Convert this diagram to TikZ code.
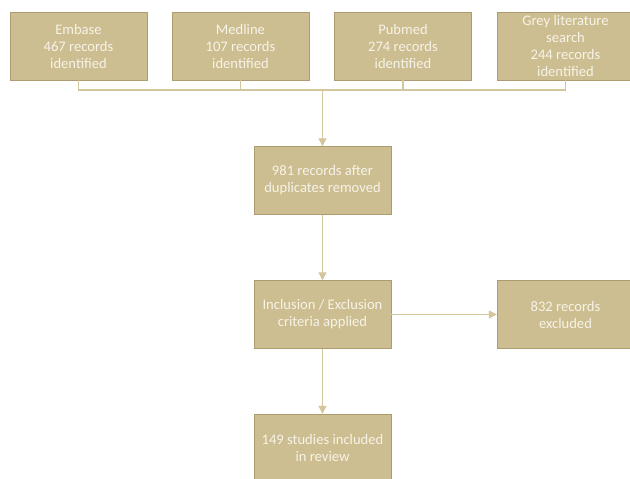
\documentclass[tikz,border=0pt]{standalone}
\usepackage{fontspec}
\setmainfont{Carlito}
\usetikzlibrary{arrows.meta,positioning,calc}
\definecolor{PrsTan}{RGB}{205,190,145}
\definecolor{PrsEdge}{RGB}{172,156,112}
\definecolor{PrsLine}{RGB}{212,198,156}
\definecolor{PrsText}{RGB}{246,243,232}
\tikzset{
  prs/box/.style={
    draw=PrsEdge,
    thin,
    fill=PrsTan,
    align=center,
    text=PrsText,
    minimum width=137pt,
    minimum height=68pt,
    inner sep=2pt,
    font=\fontsize{14.6pt}{17pt}\selectfont
  },
  prs/line/.style={draw=PrsLine, line width=1.3pt},
  prs/arrow/.style={-{Triangle[length=8pt,width=8pt]}, line width=1.3pt, draw=PrsLine}
}
\begin{document}
\begin{tikzpicture}[x=1pt,y=-1pt]
  \useasboundingbox (0,0) rectangle (630,479);
  \clip (0,0) rectangle (630,479);
  % sources
  \node[prs/box] (embase) at (78.5,46) {Embase\\467 records\\identified};
  \node[prs/box] (medline) at (240.5,46) {Medline\\107 records\\identified};
  \node[prs/box] (pubmed) at (403,46) {Pubmed\\274 records\\identified};
  \node[prs/box] (grey) at (565.5,46) {Grey literature\\search\\244 records\\identified};
  % screening
  \node[prs/box] (dedup) at (322.5,180.5) {981 records after\\duplicates removed};
  \node[prs/box] (criteria) at (322.5,314.5) {Inclusion / Exclusion\\criteria applied};
  \node[prs/box] (excluded) at (565.5,314.5) {832 records\\excluded};
  \node[prs/box] (included) at (322.5,448) {149 studies included\\in review};
  % bus under the sources
  \coordinate (bus) at (322.5,90);
  \draw[prs/line] (embase.south) |- (bus);
  \draw[prs/line] (medline.south) |- (bus);
  \draw[prs/line] (pubmed.south) |- (bus);
  \draw[prs/line] (grey.south) |- (bus);
  \draw[prs/arrow] (bus) -- (dedup.north);
  \draw[prs/arrow] (dedup) -- (criteria);
  \draw[prs/arrow] (criteria) -- (excluded);
  \draw[prs/arrow] (criteria) -- (included);
\end{tikzpicture}
\end{document}
